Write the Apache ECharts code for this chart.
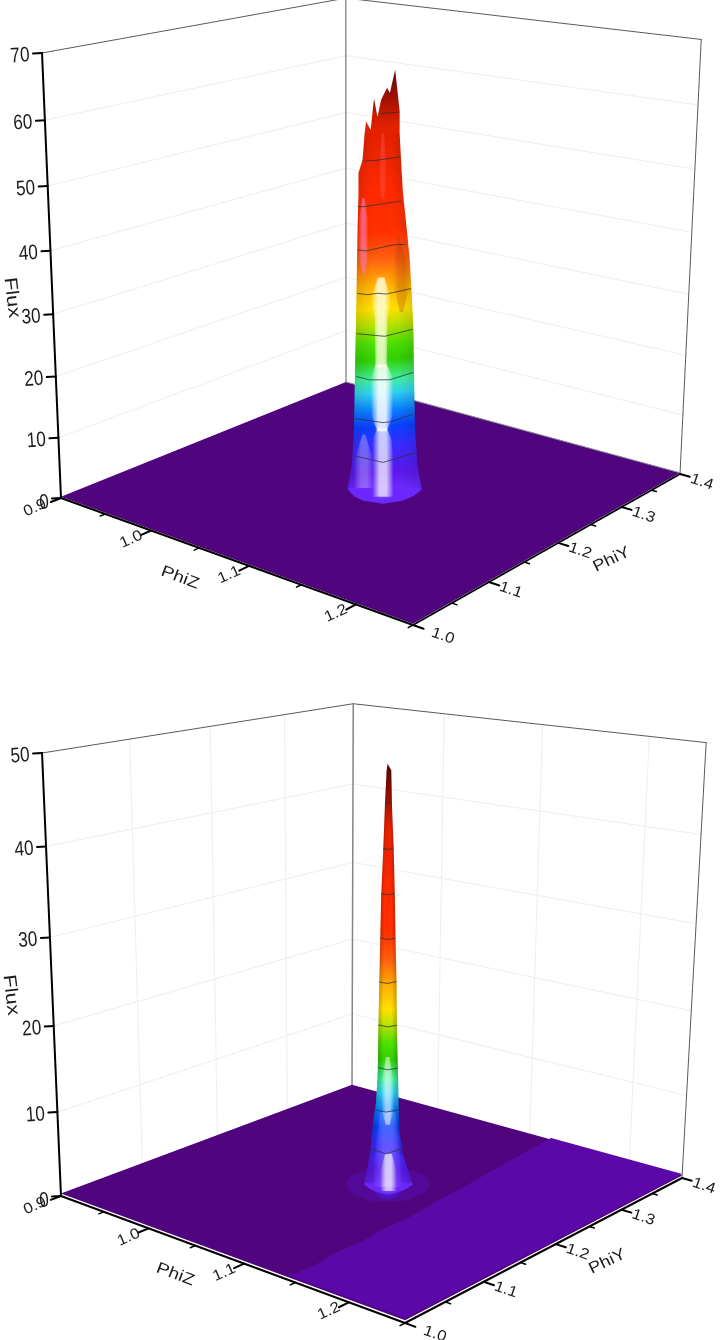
<!DOCTYPE html>
<html>
<head>
<meta charset="utf-8">
<title>Flux over PhiY and PhiZ</title>
<script src="https://cdn.jsdelivr.net/npm/echarts@6/dist/echarts.min.js"></script>
<style>
  html, body { margin: 0; padding: 0; background: #fff; }
  #chart { width: 720px; height: 1340px; }
  #chart canvas { filter: blur(0.4px); }
</style>
</head>
<body>
<div id="chart"></div>
<script>
// axes
var phiYTicks = [1.0, 1.05, 1.1, 1.15, 1.2, 1.25, 1.3, 1.35, 1.4];
var phiYLabels = ['1.0', '', '1.1', '', '1.2', '', '1.3', '', '1.4'];
var phiZTicks = [0.9, 0.95, 1.0, 1.05, 1.1, 1.15, 1.2, 1.25];
var phiZLabels = ['0.9', '', '1.0', '', '1.1', '', '1.2', ''];
var flux1Ticks = [0, 10, 20, 30, 40, 50, 60, 70];
var flux2Ticks = [0, 10, 20, 30, 40, 50];

// colour scale: position on the flux range, colour
var scaleAt = [0, 0.006, 0.01, 0.037, 0.1, 0.147, 0.186, 0.226, 0.257, 0.304, 0.343, 0.38, 0.42, 0.475, 0.533, 0.594, 0.68, 0.83, 0.9, 0.95];
var scaleColor = ['#50057f', '#50057f', '#5c08a8', '#5a18e8', '#3a2aff', '#0a40ff', '#0a80ff', '#30d0f0', '#40f0a0', '#30d000', '#50e000', '#b0e000', '#ffe000', '#ffb000', '#ff6010', '#ff3000', '#ff2a00', '#e02000', '#900d00', '#600800'];

var peak1PhiY = 1.202;
var peak1PhiZ = 1.084;
var peak1Flux = [0, 4.2, 10.3, 15.8, 21.3, 25.6, 32, 37.3, 42.6, 47.8, 50.9, 52.9, 57];
var peak1Left = [-0.0213, -0.0188, -0.0176, -0.0172, -0.0168, -0.0164, -0.0159, -0.0155, -0.0151, -0.0145, -0.0145, -0.0122, -0.011];
var peak1Right = [0.0213, 0.0188, 0.0174, 0.017, 0.0166, 0.0164, 0.0153, 0.0141, 0.0122, 0.0102, 0.0095, 0.0091, 0.0083];
var peak1TopAcross = [-0.0102, -0.0077, -0.0058, -0.0039, -0.0019, 0.0014, 0.0029, 0.0058, 0.0068, 0.0083];
var peak1TopFlux = [58.8, 57.5, 62.3, 59.5, 62.1, 63.9, 63.1, 66.6, 64.1, 60.3];
var peak1FootAcross = [0.0213, 0.0165, 0.0106, -0.001, -0.0126, -0.0175, -0.0213];
var peak1FootDepth = [0.003, 0.013, 0.02, 0.025, 0.02, 0.013, 0.002];
var peak1RingAcross = [-0.022, -0.016, 0, 0.016, 0.022, 0.016, 0, -0.016];
var peak1RingDepth = [0, 0.017, 0.024, 0.017, 0, -0.012, -0.016, -0.012];
var contour1Flux = [4, 11, 18, 25, 32, 39, 46, 53, 60];
var contour1Across = [
  [-0.0174, -0.001, 0.018],
  [-0.0168, -0.001, 0.0039, 0.0168],
  [-0.0164, -0.0087, 0.0029, 0.0164],
  [-0.016, 0, 0.016],
  [-0.0155, -0.0097, -0.0039, 0.001, 0.015],
  [-0.0151, -0.0106, 0.0048, 0.0116],
  [-0.0149, -0.0116, 0.0093],
  [-0.012, -0.0048, 0.0087],
  [-0.0029, 0.0077]
];
var contour1Depth = [
  [-0.014, -0.003, -0.019],
  [-0.0065, 0.0005, -0.001, -0.0146],
  [-0.0065, 0, 0, -0.0135],
  [-0.0065, -0.001, -0.0146],
  [0, 0.0027, 0, 0.0016, -0.0097],
  [0.001, 0.0038, -0.0097, -0.0108],
  [0.0043, 0.0049, -0.0086],
  [0.0043, 0.0027, -0.0065],
  [0.001, -0.0043]
];

// lower surface
var peak2PhiY = 1.208;
var peak2PhiZ = 1.083;
var peak2Flux = [0.5, 3.9, 6.5, 8.5, 10, 12.4, 14, 19, 24, 29, 33.8, 38.8, 43.7, 47.6];
var peak2Left = [-0.014, -0.0106, -0.0094, -0.0082, -0.007, -0.0062, -0.0058, -0.0054, -0.0048, -0.0042, -0.0036, -0.0024, -0.0014, -0.0004];
var peak2Right = [0.015, 0.009, 0.007, 0.0066, 0.0064, 0.0062, 0.006, 0.0054, 0.0052, 0.0046, 0.0042, 0.0036, 0.0026, 0.0022];
var peak2TopAcross = [0.0002];
var peak2TopFlux = [48.3];
var peak2FootAcross = [0.015, 0.011, 0.006, 0, -0.006, -0.0105, -0.014];
var peak2FootDepth = [0.003, 0.01, 0.0155, 0.019, 0.0155, 0.01, 0.003];
var peak2RingAcross = [-0.0245, -0.017, 0, 0.017, 0.0245, 0.017, 0, -0.017];
var peak2RingDepth = [0, 0.02, 0.0275, 0.02, 0, -0.019, -0.026, -0.019];
var contour2Flux = [4, 9, 14, 19, 24, 29, 34, 39, 44];
var contour2Across = [
  [-0.0106, -0.001, 0.009],
  [-0.008, -0.001, 0.0066],
  [-0.0056, 0, 0.006],
  [-0.0054, 0, 0.0054],
  [-0.0048, 0, 0.0052],
  [-0.0042, 0, 0.0046],
  [-0.0036, 0, 0.0042],
  [-0.0024, 0.0006, 0.0036],
  [-0.0014, 0.0006, 0.0026]
];
var contour2Depth = [
  [-0.009, 0, -0.009],
  [-0.004, 0, -0.004],
  [-0.004, 0, -0.003],
  [-0.004, 0, -0.003],
  [-0.003, 0, -0.004],
  [-0.003, 0, -0.002],
  [-0.003, 0, -0.002],
  [-0.003, 0, -0.004],
  [-0.002, 0, -0.002]
];

// flat parts of the surfaces
var floor1Flux = 0.2;
var floor2DarkFlux = 0.3;
var floor2BrightFlux = 0.5;
var floor2StepPhiY = [1.0, 1.03, 1.06, 1.09, 1.12, 1.16, 1.2, 1.26, 1.32, 1.4];
var floor2StepPhiZ = [1.145, 1.146, 1.142, 1.144, 1.14, 1.141, 1.137, 1.133, 1.128, 1.122];

// light on the peaks, rows are [flux, across, half width]
var glow1 = [
  { rgb: '255,255,255', alpha: 0.26, rows: [[0, -0.012, 0.006], [4, -0.012, 0.006], [9, -0.012, 0.0008]] },
  { rgb: '255,255,255', alpha: 0.66, rows: [[-1.5, -0.001, 0.0062], [3, -0.001, 0.0062], [8, -0.0015, 0.0055], [10, -0.0015, 0.0028]] },
  { rgb: '255,255,255', alpha: 0.8, rows: [[9.5, -0.0015, 0.0026], [12, -0.0015, 0.006], [18, -0.0015, 0.0065], [20.5, -0.002, 0.0032]] },
  { rgb: '255,255,225', alpha: 0.75, rows: [[20, -0.002, 0.0032], [28, -0.002, 0.0035], [31, -0.002, 0.0058], [34.5, -0.002, 0.0018]] },
  { rgb: '255,120,170', alpha: 0.6, rows: [[35, -0.0118, 0.0004], [38, -0.0118, 0.0028], [43, -0.0118, 0.0028], [47, -0.0118, 0.0006]] },
  { rgb: '255,90,90', alpha: 0.34, rows: [[47, -0.001, 0.0006], [50, -0.001, 0.0024], [57, -0.001, 0.0006]] },
  { rgb: '170,50,0', alpha: 0.26, rows: [[29, 0.0095, 0.0008], [34, 0.0095, 0.0055], [41, 0.0075, 0.0008]] }
];
var glow2 = [
  { rgb: '210,210,255', alpha: 0.24, rows: [[0, 0, 0.009], [4, 0, 0.0075], [9, 0, 0.0045]] },
  { rgb: '255,255,255', alpha: 0.62, rows: [[-0.5, 0.0004, 0.005], [2, 0.0004, 0.0045], [4, 0.0004, 0.002]] },
  { rgb: '255,255,255', alpha: 0.5, rows: [[7.5, 0, 0.0012], [9.5, 0, 0.0038], [13, 0, 0.0032], [15.5, 0, 0.001]] }
];

var panels = [
  {
    left: [61, 498], back: [346, 383], right: [680, 474], front: [413, 625],
    leftTopY: 53, vanish: [349, 7250],
    fluxMax: 70, fluxTicks: flux1Ticks, grid: false, edgeLine: true, shade: 0.1,
    phiY: peak1PhiY, phiZ: peak1PhiZ,
    acrossZ: 1.05, depthY: -1.14, depthZ: 0.8, lean: -0.000019,
    flux: peak1Flux, lft: peak1Left, rgt: peak1Right,
    topA: peak1TopAcross, topF: peak1TopFlux, footA: peak1FootAcross, footD: peak1FootDepth,
    ringA: peak1RingAcross, ringD: peak1RingDepth,
    cFlux: contour1Flux, cAcross: contour1Across, cDepth: contour1Depth,
    glow: glow1, tilt: 0.07,
    fluxTitle: [35, -40, 15], zTitle: [-19, 30], yTitle: [21, 35]
  },
  {
    left: [61, 1196], back: [352, 1087], right: [682, 1178], front: [405, 1323],
    leftTopY: 753, vanish: [331, 7503],
    fluxMax: 50, fluxTicks: flux2Ticks, grid: true, edgeLine: false, shade: 0.22,
    phiY: peak2PhiY, phiZ: peak2PhiZ,
    acrossZ: 1.0, depthY: -1.157, depthZ: 0.846, lean: -0.00005,
    flux: peak2Flux, lft: peak2Left, rgt: peak2Right,
    topA: peak2TopAcross, topF: peak2TopFlux, footA: peak2FootAcross, footD: peak2FootDepth,
    ringA: peak2RingAcross, ringD: peak2RingDepth,
    cFlux: contour2Flux, cAcross: contour2Across, cDepth: contour2Depth,
    glow: glow2, tilt: 0,
    fluxTitle: [25, -41, 13], zTitle: [-20, 29], yTitle: [18, 35]
  }
];

var PHIY_MIN = 1.0, PHIY_MAX = 1.4, PHIZ_MIN = 0.9, PHIZ_MAX = 1.25;
var LABEL_FONT = '"Liberation Sans", Arial, sans-serif';

// perspective camera: floor square to quad (Heckbert), verticals run to the vanishing point
function makeCamera(p) {
  var x0 = p.left[0], y0 = p.left[1], x1 = p.back[0], y1 = p.back[1];
  var x2 = p.right[0], y2 = p.right[1], x3 = p.front[0], y3 = p.front[1];
  var dx1 = x1 - x2, dx2 = x3 - x2, sx = x0 - x1 + x2 - x3;
  var dy1 = y1 - y2, dy2 = y3 - y2, sy = y0 - y1 + y2 - y3;
  var den = dx1 * dy2 - dx2 * dy1;
  var g = (sx * dy2 - dx2 * sy) / den;
  var h = (dx1 * sy - sx * dy1) / den;
  var s = (y0 - p.leftTopY) / (p.leftTopY - p.vanish[1]);
  p.cam = {
    a: x1 - x0 + g * x1, b: x3 - x0 + h * x3, c: x0,
    d: y1 - y0 + g * y1, e: y3 - y0 + h * y3, f: y0,
    g: g, h: h, s: s
  };
}

function project(p, phiY, phiZ, flux) {
  var u = (phiY - PHIY_MIN) / (PHIY_MAX - PHIY_MIN);
  var v = (phiZ - PHIZ_MIN) / (PHIZ_MAX - PHIZ_MIN);
  var w = flux / p.fluxMax;
  var c = p.cam;
  var n = c.g * u + c.h * v + 1 + c.s * w;
  return [
    (c.a * u + c.b * v + c.c + c.s * p.vanish[0] * w) / n,
    (c.d * u + c.e * v + c.f + c.s * p.vanish[1] * w) / n
  ];
}

function hexToRgb(hex) {
  return [parseInt(hex.substr(1, 2), 16), parseInt(hex.substr(3, 2), 16), parseInt(hex.substr(5, 2), 16)];
}

function colorAt(t) {
  var i = 0;
  while (i < scaleAt.length - 2 && t > scaleAt[i + 1]) i++;
  var k = Math.max(0, Math.min(1, (t - scaleAt[i]) / (scaleAt[i + 1] - scaleAt[i])));
  var a = hexToRgb(scaleColor[i]), b = hexToRgb(scaleColor[i + 1]);
  return 'rgb(' + [0, 1, 2].map(function (n) { return Math.round(a[n] + (b[n] - a[n]) * k); }).join(',') + ')';
}

function renderPanel(p) {
  return function (params, api) {
    var kids = [];
    function pt(y, z, f) { return api.coord(project(p, y, z, f)); }
    function peakPt(across, depth, f) {
      var a = across + p.lean * f;
      return pt(p.phiY + a + depth * p.depthY, p.phiZ + a * p.acrossZ + depth * p.depthZ, f);
    }
    function line(a, b, color, width) {
      kids.push({ type: 'line', shape: { x1: a[0], y1: a[1], x2: b[0], y2: b[1] }, style: { stroke: color, lineWidth: width, lineCap: 'round' } });
    }
    function text(str, at, rot, size, scaleX) {
      kids.push({
        type: 'text', x: at[0], y: at[1], rotation: rot, scaleX: scaleX,
        style: { text: str, fontSize: size, fontFamily: LABEL_FONT, fill: '#1c1c1c', align: 'center', verticalAlign: 'middle', textAlign: 'center', textVerticalAlign: 'middle' }
      });
    }
    function poly(points, style, smooth) {
      kids.push({ type: 'polygon', shape: { points: points, smooth: smooth || 0 }, style: style });
    }

    // wall grid
    var gridColor = '#ebf0f0';
    p.fluxTicks.slice(1, -1).forEach(function (f) {
      line(pt(PHIY_MIN, PHIZ_MIN, f), pt(PHIY_MAX, PHIZ_MIN, f), gridColor, 1);
      line(pt(PHIY_MAX, PHIZ_MIN, f), pt(PHIY_MAX, PHIZ_MAX, f), gridColor, 1);
    });
    if (p.grid) {
      [1.1, 1.2, 1.3].forEach(function (y) { line(pt(y, PHIZ_MIN, 0), pt(y, PHIZ_MIN, p.fluxMax), gridColor, 1); });
      [1.0, 1.1, 1.2].forEach(function (z) { line(pt(PHIY_MAX, z, 0), pt(PHIY_MAX, z, p.fluxMax), gridColor, 1); });
    }

    // wall outline
    var edge = '#555c5c';
    line(pt(PHIY_MIN, PHIZ_MIN, p.fluxMax), pt(PHIY_MAX, PHIZ_MIN, p.fluxMax), edge, 1);
    line(pt(PHIY_MAX, PHIZ_MIN, p.fluxMax), pt(PHIY_MAX, PHIZ_MAX, p.fluxMax), edge, 1);
    line(pt(PHIY_MAX, PHIZ_MIN, 0), pt(PHIY_MAX, PHIZ_MIN, p.fluxMax), p.grid ? '#808686' : edge, p.grid ? 1.5 : 1);
    line(pt(PHIY_MAX, PHIZ_MAX, 0), pt(PHIY_MAX, PHIZ_MAX, p.fluxMax), edge, 1);

    // floor
    if (p.edgeLine) {
      poly([pt(PHIY_MIN, PHIZ_MIN, floor1Flux), pt(PHIY_MAX, PHIZ_MIN, floor1Flux), pt(PHIY_MAX, PHIZ_MAX, floor1Flux), pt(PHIY_MIN, PHIZ_MAX, floor1Flux)],
        { fill: colorAt(floor1Flux / p.fluxMax) });
      line(pt(PHIY_MAX, PHIZ_MIN, floor1Flux), pt(PHIY_MAX, PHIZ_MAX, floor1Flux), '#8a8f96', 1);
    } else {
      poly([pt(PHIY_MIN, PHIZ_MIN, floor2DarkFlux), pt(PHIY_MAX, PHIZ_MIN, floor2DarkFlux), pt(PHIY_MAX, PHIZ_MAX, floor2DarkFlux), pt(PHIY_MIN, PHIZ_MAX, floor2DarkFlux)],
        { fill: colorAt(floor2DarkFlux / p.fluxMax) });
      var step = floor2StepPhiY.map(function (y, i) { return pt(y, floor2StepPhiZ[i], floor2BrightFlux); });
      poly(step.concat([pt(PHIY_MAX, PHIZ_MAX, floor2BrightFlux), pt(PHIY_MIN, PHIZ_MAX, floor2BrightFlux)]),
        { fill: colorAt(floor2BrightFlux / p.fluxMax) });
    }

    // ring at the foot of the peak
    var ring = p.ringA.map(function (a, i) { return peakPt(a, p.ringD[i], 0.4); });
    poly(ring, {
      fill: { type: 'radial', x: 0.5, y: 0.5, r: 0.5, colorStops: [{ offset: 0, color: '#5a20ff' }, { offset: 0.75, color: '#4c14c4' }, { offset: 1, color: 'rgba(84,10,160,0.75)' }] }
    }, 0.6);

    // peak body, colour follows the flux scale
    var topFlux = Math.max.apply(null, p.topF);
    var baseXY = peakPt(0, 0, 0), topXY = peakPt(0, 0, topFlux);
    var len = baseXY[1] - topXY[1];
    var stops = [{ offset: 0, color: '#6a28ff' }];
    scaleAt.forEach(function (t, i) {
      if (t < 0.037) return;
      var y = peakPt(0, 0, t * p.fluxMax)[1];
      var offset = (baseXY[1] - y) / len;
      if (offset < 1) stops.push({ offset: offset, color: scaleColor[i] });
    });
    stops.push({ offset: 1, color: '#5a0700' });
    var body = [];
    p.flux.forEach(function (f, i) { body.push(peakPt(p.lft[i], 0, f)); });
    p.topA.forEach(function (a, i) { body.push(peakPt(a, 0, p.topF[i])); });
    for (var r = p.flux.length - 1; r > 0; r--) body.push(peakPt(p.rgt[r], 0, p.flux[r]));
    p.footA.forEach(function (a, i) { body.push(peakPt(a, p.footD[i], p.flux[0])); });
    poly(body, {
      fill: {
        type: 'linear', global: true,
        x: baseXY[0], y: baseXY[1],
        x2: baseXY[0] - p.tilt * len, y2: baseXY[1] - len,
        colorStops: stops
      }
    });

    // darker flanks row by row
    for (var k = 0; k < p.flux.length - 1; k++) {
      poly([peakPt(p.lft[k], 0, p.flux[k]), peakPt(p.lft[k + 1], 0, p.flux[k + 1]), peakPt(p.rgt[k + 1], 0, p.flux[k + 1]), peakPt(p.rgt[k], 0, p.flux[k])], {
        fill: new echarts.graphic.LinearGradient(0, 0, 1, 0, [
          { offset: 0, color: 'rgba(0,0,0,' + p.shade + ')' }, { offset: 0.28, color: 'rgba(0,0,0,0)' },
          { offset: 0.72, color: 'rgba(0,0,0,0)' }, { offset: 1, color: 'rgba(0,0,0,' + p.shade + ')' }
        ])
      });
    }

    // highlights, soft edged
    p.glow.forEach(function (g) {
      var up = g.rows.map(function (row) { return peakPt(row[1] - row[2], 0, row[0]); });
      var down = g.rows.map(function (row) { return peakPt(row[1] + row[2], 0, row[0]); }).reverse();
      poly(up.concat(down), {
        shadowBlur: 5,
        shadowColor: 'rgba(' + g.rgb + ',' + (g.alpha * 0.5) + ')',
        fill: new echarts.graphic.LinearGradient(0, 0, 1, 0, [
          { offset: 0, color: 'rgba(' + g.rgb + ',0)' }, { offset: 0.35, color: 'rgba(' + g.rgb + ',' + g.alpha + ')' },
          { offset: 0.65, color: 'rgba(' + g.rgb + ',' + g.alpha + ')' }, { offset: 1, color: 'rgba(' + g.rgb + ',0)' }
        ])
      });
    });

    // contour lines
    p.cFlux.forEach(function (f, i) {
      var pts = p.cAcross[i].map(function (a, j) { return peakPt(a, p.cDepth[i][j], f); });
      kids.push({ type: 'polyline', shape: { points: pts }, style: { stroke: 'rgba(40,48,56,0.75)', lineWidth: 1, fill: 'none' } });
    });

    // axes on top
    line(pt(PHIY_MIN, PHIZ_MIN, 0), pt(PHIY_MIN, PHIZ_MIN, p.fluxMax), '#000', 2);
    line(pt(PHIY_MIN, PHIZ_MIN, 0), pt(PHIY_MIN, PHIZ_MAX, 0), '#000', 2);
    line(pt(PHIY_MIN, PHIZ_MAX, 0), pt(PHIY_MAX, PHIZ_MAX, 0), '#000', 2);

    p.fluxTicks.forEach(function (f, i) {
      var at = pt(PHIY_MIN, PHIZ_MIN, f);
      line(at, [at[0] - 9, at[1] + 0.5], '#000', 2);
      text(String(f), [at[0] - (i === 0 ? 17 : 22), at[1] + (i === 0 ? 5 : 3)], 0.07, 21, 0.82);
    });
    phiZTicks.forEach(function (z, i) {
      var major = phiZLabels[i] !== '';
      var a = pt(PHIY_MIN, z, 0);
      line(a, pt(PHIY_MIN - (major ? 0.012 : 0.006), z, 0), '#000', major ? 2 : 1.5);
      if (major) text(phiZLabels[i], [a[0] - (i === 0 ? 26 : 20), a[1] + (i === 0 ? 10 : 9)], 0.42, 15, 1.12);
    });
    phiYTicks.forEach(function (y, i) {
      var major = phiYLabels[i] !== '';
      var a = pt(y, PHIZ_MAX, 0);
      line(a, pt(y, PHIZ_MAX + (major ? 0.009 : 0.0045), 0), '#000', major ? 2 : 1.5);
      if (major) text(phiYLabels[i], [a[0] + (i === 0 ? 30 : 22), a[1] + (i === 0 ? 11 : 8)], -0.33, 15, 1.12);
    });

    // axis titles
    var ft = pt(PHIY_MIN, PHIZ_MIN, p.fluxTitle[0]);
    text('Flux', [ft[0] + p.fluxTitle[1], ft[1] + p.fluxTitle[2]], -1.45, 18, 1.2);
    var zt = pt(PHIY_MIN, 1.05, 0);
    text('PhiZ', [zt[0] + p.zTitle[0], zt[1] + p.zTitle[1]], -0.36, 16, 1.2);
    var yt = pt(1.25, PHIZ_MAX, 0);
    text('PhiY', [yt[0] + p.yTitle[0], yt[1] + p.yTitle[1]], 0.45, 16, 1.15);

    return { type: 'group', children: kids };
  };
}

panels.forEach(makeCamera);

var chart = echarts.init(document.getElementById('chart'), null, { renderer: 'canvas' });
chart.setOption({
  animation: false,
  backgroundColor: '#fff',
  tooltip: { show: false },
  grid: { left: 0, right: 0, top: 0, bottom: 0, containLabel: false },
  xAxis: { type: 'value', min: 0, max: 720, show: false },
  yAxis: { type: 'value', min: 0, max: 1340, inverse: true, show: false },
  series: panels.map(function (p) {
    return { type: 'custom', coordinateSystem: 'cartesian2d', clip: false, silent: true, data: [[0, 0]], renderItem: renderPanel(p) };
  })
});
</script>
</body>
</html>
